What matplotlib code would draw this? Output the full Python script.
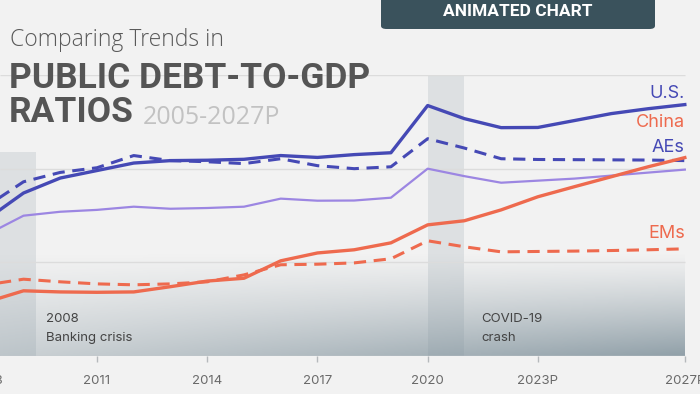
import matplotlib
matplotlib.use("Agg")
import matplotlib.pyplot as plt
import numpy as np
from matplotlib.patches import FancyBboxPatch

years = [2008, 2009, 2010, 2011, 2012, 2013, 2014, 2015, 2016, 2017,
         2018, 2019, 2020, 2021, 2022, 2023, 2024, 2025, 2026, 2027]
us = [73, 87, 95, 99, 103, 104.3, 104.5, 105, 107, 106,
      107.5, 108.5, 133.7, 126.7, 121.9, 122, 125.7, 129.4, 132, 134.2]
aes = [80, 93, 98, 100.5, 107, 104.3, 103.7, 102.7, 105.3, 101.6,
       100, 101, 116, 111, 105.3, 104.9, 104.8, 104.7, 104.6, 104.3]
world = [64.8, 74.9, 77, 78, 79.7, 78.6, 79, 79.7, 84, 82.9,
         83, 84.5, 100, 96, 92.5, 93.6, 94.7, 96.3, 97.9, 99.5]
china = [28.8, 34.8, 34.2, 34, 34.2, 37, 40, 41.5, 50.8, 55,
         56.7, 60.4, 70, 72.2, 78, 85, 90.4, 95.7, 101, 105.9]
ems = [38, 41, 39.6, 38.5, 38, 38.5, 39.6, 43.3, 48.7, 49,
       49.7, 51.9, 61.5, 58.3, 55.6, 55.8, 56, 56.3, 56.7, 57.2]
tick_years = [2008, 2011, 2014, 2017, 2020, 2023, 2027]
tick_labels = ["2008", "2011", "2014", "2017", "2020", "2023P", "2027P"]
gridvals = [50, 100, 150]

BG = "#f2f2f2"
BLUE = "#4549b5"
RED = "#ee6a4e"
PURPLE = "#9c86e2"

W, H = 700, 394
fig = plt.figure(figsize=(W / 100, H / 100), dpi=100, facecolor=BG)

x0 = 2008.36
x1 = x0 + 700 / 36.74
ax = fig.add_axes([0, (H - 356) / H, 1, (356 - 75) / H])
ax.set_facecolor("none")
for s in ax.spines.values():
    s.set_visible(False)

# shaded crisis periods
ax.fill_between([2008.3, 2009.33], 0, 109, color="#dde0e2", zorder=1, lw=0)
ax.fill_between([2020, 2021], 0, 150, color="#dde0e2", zorder=1, lw=0)

# bottom gradient
ny, nx = 100, 300
gy = np.linspace(0, 1, ny)[:, None]  # 0 bottom -> 1 top
gx = np.linspace(0, 1, nx)[None, :]
alpha = (1 - gy) ** 1.2 * (0.4 + 0.6 * gx) * 0.85
img = np.zeros((ny, nx, 4))
img[..., 0] = 0.50
img[..., 1] = 0.57
img[..., 2] = 0.61
img[..., 3] = alpha
ax.imshow(img, extent=[x0, 2027, 0, 55], origin="lower", aspect="auto",
          zorder=1.5, interpolation="bilinear")

# gridlines
ax.hlines(gridvals, x0, 2027, color="#dcdcdc", lw=1, zorder=2)
ax.hlines(0, x0, 2027, color="#c9cdd0", lw=1, zorder=2)

# lines
ax.plot(years, world, color=PURPLE, lw=1.6, zorder=3)
ax.plot(years, aes, color=BLUE, lw=2.2, ls=(0, (4, 2.5)), zorder=4)
ax.plot(years, us, color=BLUE, lw=2.4, zorder=5)
ax.plot(years, ems, color=RED, lw=2.2, ls=(0, (4, 2.5)), zorder=4)
ax.plot(years, china, color=RED, lw=2.4, zorder=5)

# ticks
ax.set_yticks([])
ax.set_xticks(tick_years)
ax.set_xticklabels(tick_labels, fontsize=9.5, color="#6a6a6a",
                   family=["Inter", "DejaVu Sans"])
ax.tick_params(axis="x", length=4, width=1, color="#b5b9bc", pad=10)

ax.set_xlim(x0, x1)
ax.set_ylim(0, 150)

# first tick label lies partly outside the visible range (as in the reference)
ax.text(tick_years[0], -(381 - 356) / 281, tick_labels[0], transform=ax.get_xaxis_transform(),
        fontsize=9.5, color="#6a6a6a", ha="center", va="center",
        family=["Inter", "DejaVu Sans"], clip_on=False)

lab_font = ["Inter", "DejaVu Sans"]
ax.text(2027, 140, "U.S.", color=BLUE, fontsize=13, ha="right", va="center", family=lab_font)
ax.text(2027, 124.5, "China", color=RED, fontsize=13, ha="right", va="center", family=lab_font)
ax.text(2027, 111.5, "AEs", color=BLUE, fontsize=13, ha="right", va="center", family=lab_font)
ax.text(2027, 65.5, "EMs", color=RED, fontsize=13, ha="right", va="center", family=lab_font)

ax.text(2009.62, 19.5, "2008", color="#444444", fontsize=9.5, ha="left", va="center", family=lab_font)
ax.text(2009.62, 9.5, "Banking crisis", color="#444444", fontsize=9.5, ha="left", va="center", family=lab_font)
ax.text(2021.45, 19.5, "COVID-19", color="#444444", fontsize=9.5, ha="left", va="center", family=lab_font)
ax.text(2021.45, 9.5, "crash", color="#444444", fontsize=9.5, ha="left", va="center", family=lab_font)

# titles
fig.text(10 / W, 1 - 40 / H, "Comparing Trends in", fontsize=16.5, color="#5a5a5a",
         ha="left", va="center", family=["Open Sans", "DejaVu Sans"], fontweight="light")
fig.text(9 / W, 1 - 78 / H, "PUBLIC DEBT-TO-GDP", fontsize=25.5, color="#555555",
         ha="left", va="center", family=["Roboto", "DejaVu Sans"], fontweight="bold")
fig.text(9 / W, 1 - 112 / H, "RATIOS", fontsize=25.5, color="#555555",
         ha="left", va="center", family=["Roboto", "DejaVu Sans"], fontweight="bold")
fig.text(143 / W, 1 - 117 / H, "2005-2027P", fontsize=18, color="#c2c2c2",
         ha="left", va="center", family=["Open Sans", "DejaVu Sans"])

# animated chart box
box = FancyBboxPatch((381 / W, 1 - 29 / H), 274 / W, 45 / H,
                     boxstyle="round,pad=0,rounding_size=0.008",
                     transform=fig.transFigure, facecolor="#3a525c",
                     edgecolor="none", zorder=10)
fig.patches.append(box)
fig.text(518 / W, 1 - 11 / H, "ANIMATED CHART", fontsize=12.5, color="white",
         ha="center", va="center", family=["Roboto", "DejaVu Sans"],
         fontweight="bold", zorder=11)

fig.savefig("out.png", dpi=100, facecolor=BG)
